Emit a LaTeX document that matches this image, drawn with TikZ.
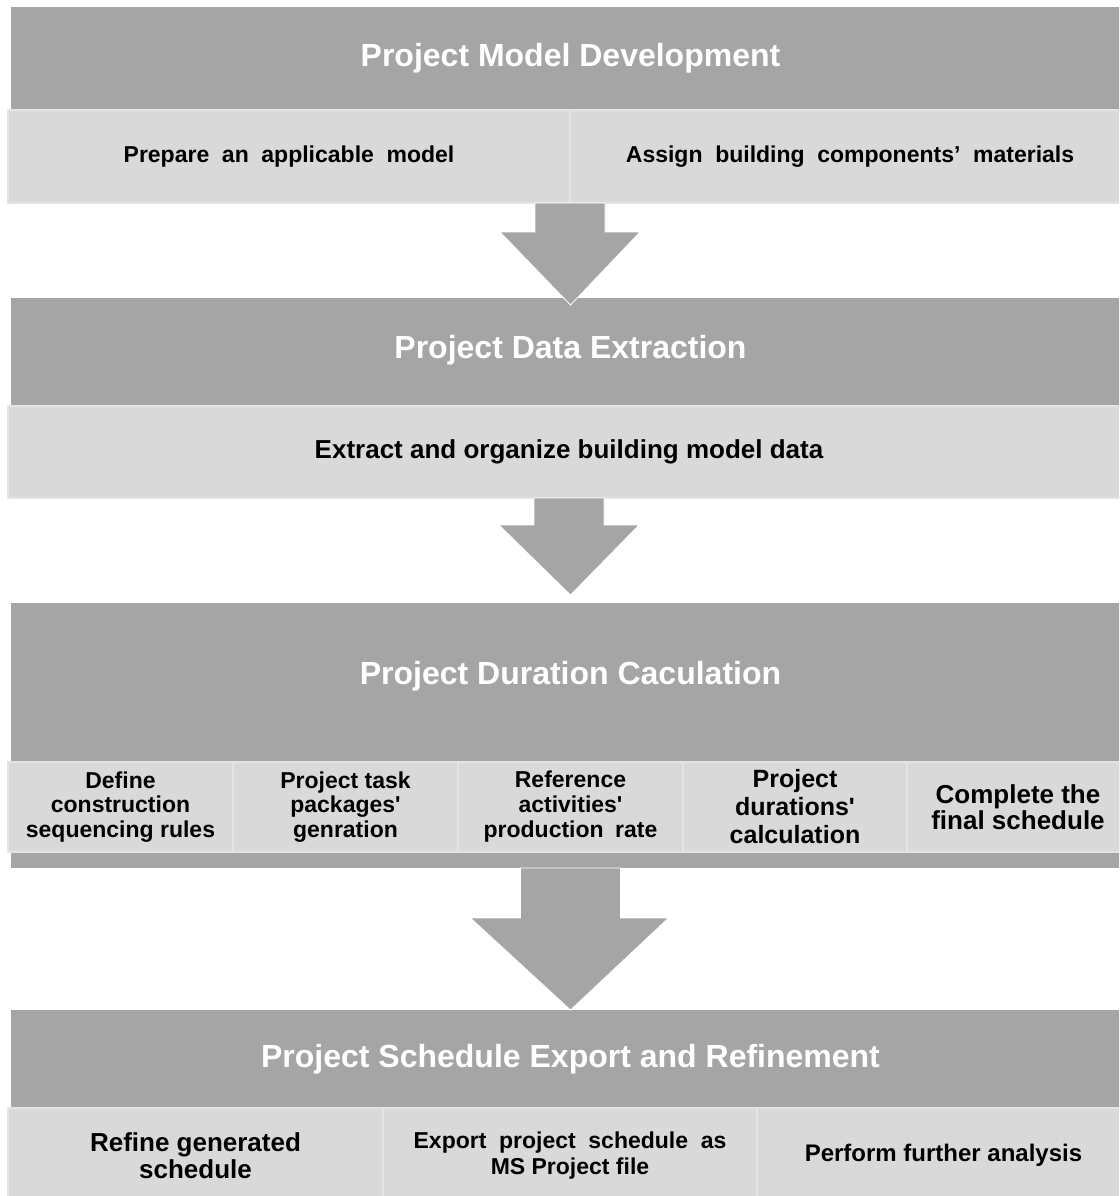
\documentclass[tikz,border=0pt]{standalone}
\usepackage{fontspec}
\setmainfont{Liberation Sans}
\usetikzlibrary{positioning, calc}
\definecolor{darkbox}{HTML}{A5A5A5}
\definecolor{lightbox}{HTML}{D9D9D9}
\definecolor{cellline}{HTML}{E4E4E4}
\newcommand\widesptext{\spaceskip 0.55em\relax}

\begin{document}
\begin{tikzpicture}[x=1pt, y=-1pt,
    header/.style={fill=darkbox, text=white, anchor=north west, inner sep=0pt, outer sep=0pt,
        minimum width=1119pt, font=\fontsize{32}{36}\selectfont\bfseries},
    cell/.style={fill=lightbox, draw=cellline, line width=1.5pt, inner sep=0pt, outer sep=0pt,
        align=center, text=black},
    widesp/.style={execute at begin node=\widesptext},
    bigarrow/.style={fill=darkbox, draw=white, line width=0.8pt}]
    \useasboundingbox (0,0) rectangle (1119,1196);
    \clip (0,0) rectangle (1119,1196);
    % Block 1
    \node[header, minimum height=103pt] (pmd) at (11,7) {Project Model Development};
    \node[cell, widesp, anchor=north west, minimum width=562pt, minimum height=93pt, font=\fontsize{23}{25}\selectfont\bfseries] (prep) at (8,110) {Prepare an applicable model};
    \node[cell, widesp, right=0pt of prep, minimum width=560pt, minimum height=93pt, font=\fontsize{23}{25}\selectfont\bfseries] (assign) {Assign building components’ materials};
    % Block 2
    \node[header, minimum height=108pt] (pde) at (11,298) {\raisebox{10pt}{Project Data Extraction}};
    \node[cell, anchor=north west, minimum width=1122pt, minimum height=92pt, font=\fontsize{26}{30}\selectfont\bfseries] (extract) at (8,406) {Extract and organize building model data};
    % Block 3
    \node[header, minimum height=159pt] (pdc) at (11,603) {\raisebox{20pt}{Project Duration Caculation}};
    \fill[darkbox] (pdc.south west) rectangle ($(pdc.south east)+(0,106)$);
    \node[cell, anchor=north west, minimum width=225pt, minimum height=90pt, font=\fontsize{23}{24.5}\selectfont\bfseries] (rules) at (8,762) {Define\\construction\\sequencing rules};
    \node[cell, right=0pt of rules, minimum width=225pt, minimum height=90pt, font=\fontsize{23}{24.5}\selectfont\bfseries] (pack) {Project task\\packages\textquotesingle\\genration};
    \node[cell, right=0pt of pack, minimum width=225pt, minimum height=90pt, font=\fontsize{23}{25}\selectfont\bfseries] (rate) {Reference\\activities\textquotesingle\\production\enspace rate};
    \node[cell, right=0pt of rate, minimum width=224pt, minimum height=90pt, font=\fontsize{25}{28}\selectfont\bfseries] (durs) {Project\\durations\textquotesingle\\calculation};
    \node[cell, right=0pt of durs, minimum width=222pt, minimum height=90pt, font=\fontsize{26}{26}\selectfont\bfseries] (final) {Complete the\\final schedule};
    % Block 4
    \node[header, minimum height=98pt] (pse) at (11,1010) {Project Schedule Export and Refinement};
    \node[cell, anchor=north west, minimum width=375pt, minimum height=95pt, font=\fontsize{26}{27}\selectfont\bfseries] (refine) at (8,1108) {Refine generated\\schedule};
    \node[cell, widesp, right=0pt of refine, minimum width=374pt, minimum height=95pt, font=\fontsize{23}{26}\selectfont\bfseries] (export) {Export project schedule as\\{\spaceskip 0pt MS Project file}};
    \node[cell, right=0pt of export, minimum width=373pt, minimum height=95pt, font=\fontsize{24}{26}\selectfont\bfseries] (further) {Perform further analysis};
    % Arrows between blocks
    \draw[bigarrow] ($(prep.south east)+(-35,0)$) -- ++(70,0) -- ++(0,29) -- ++(35,0)
        -- ($(pde.north)+(0,7)$) -- ($(prep.south east)+(-70,29)$) -- ($(prep.south east)+(-35,29)$) -- cycle;
    \draw[bigarrow] ($(extract.south)+(-35,0)$) -- ++(70,0) -- ++(0,27) -- ++(35,0)
        -- ($(pdc.north)+(0,-8)$) -- ($(extract.south)+(-70,27)$) -- ($(extract.south)+(-35,27)$) -- cycle;
    \draw[bigarrow] ($(rate.south)+(-50,16)$) -- ++(100,0) -- ++(0,50) -- ++(48,0)
        -- (pse.north) -- ($(rate.south)+(-100,66)$) -- ($(rate.south)+(-50,66)$) -- cycle;
\end{tikzpicture}
\end{document}
